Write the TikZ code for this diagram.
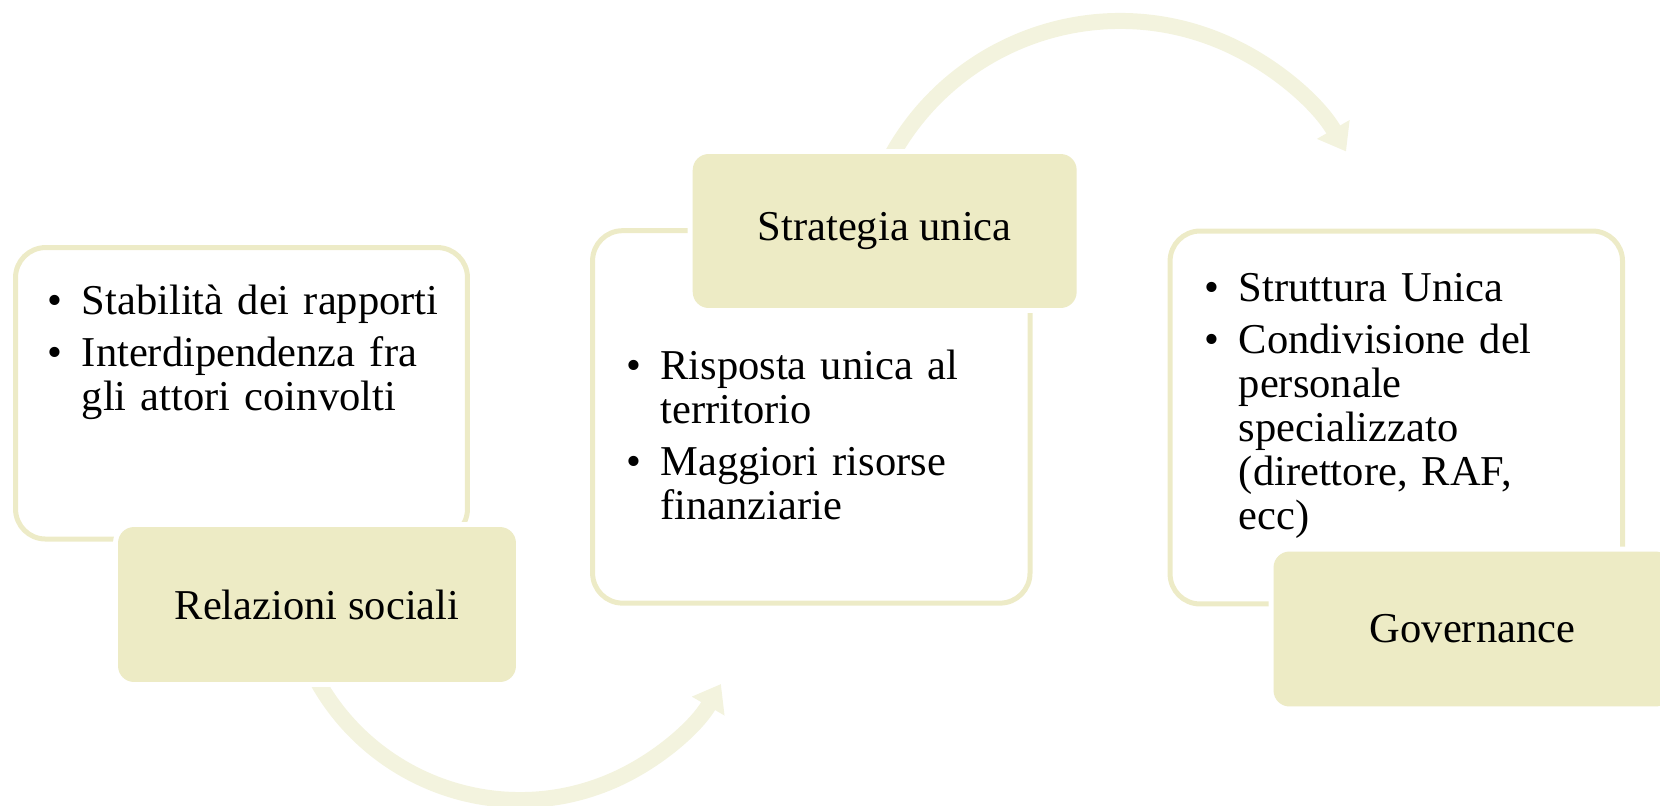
\documentclass[tikz,border=0pt]{standalone}
\usepackage{fontspec}
\setmainfont{Liberation Serif}
\usepackage{enumitem}
\usetikzlibrary{arrows.meta}

\definecolor{panelline}{RGB}{237,235,199}
\definecolor{tagfill}{RGB}{237,235,197}
\definecolor{arcfill}{RGB}{243,243,222}

\setlist[itemize]{label=\textbullet,leftmargin=0.68cm,labelwidth=0.68cm,labelsep=0pt,
  labelindent=0pt,align=left,topsep=0pt,partopsep=0pt,parsep=0pt,itemsep=4.3pt,
  before=\raggedright}
\hyphenpenalty=10000
\exhyphenpenalty=10000

\begin{document}
\begin{tikzpicture}[x=0.02cm,y=0.02cm,
  panel/.style={draw=panelline,line width=0.1cm,rounded corners=0.6cm,inner sep=0pt},
  tag/.style={fill=tagfill,rounded corners=0.32cm,inner sep=0pt,minimum height=3.1cm,
    preaction={draw=white,line width=0.2cm},font=\fontsize{24.2pt}{25pt}\selectfont},
  items/.style={anchor=base west,inner sep=0pt,align=left,
    font=\fontsize{24.2pt}{25pt}\selectfont},
  turn/.style={draw=arcfill,line width=0.32cm,-{Triangle[length=0.51cm,width=0.72cm]}}]
\useasboundingbox (0,0) rectangle (1660,-805);

% outlined panels
\node[panel,minimum width=9.04cm,minimum height=5.83cm] (relpanel) at (241.5,-393.3) {};
\node[panel,minimum width=8.75cm,minimum height=7.45cm] (strpanel) at (811.3,-416.9) {};
\node[panel,minimum width=9.05cm,minimum height=7.46cm] (govpanel) at (1396.3,-417.5) {};

% curved arrows
\coordinate (lowturn) at (520,-568);
\coordinate (highturn) at (1120,-282);
\draw[turn] ([shift={(205:232)}]lowturn) arc[start angle=205,end angle=330,radius=232];
\draw[turn] ([shift={(155:261)}]highturn) arc[start angle=155,end angle=30,radius=261];

% titles
\node[tag,minimum width=7.96cm] (rel) at (317,-604.5) {Relazioni sociali};
\node[tag,minimum width=7.68cm,minimum height=3.08cm] (str) at (884.7,-231) {Strategia unica};
\node[tag,minimum width=7.96cm] (gov) at (1472.5,-629) {Governance};

% bullet lists
\node[items,text width=7.98cm] (relitems) at (47.5,-271) {\begin{itemize}
  \item Stabilità dei rapporti
  \item Interdipendenza fra gli attori coinvolti
\end{itemize}};
\node[items,text width=7.08cm] (stritems) at (626,-336) {\begin{itemize}
  \item Risposta unica al territorio
  \item Maggiori risorse finanziarie
\end{itemize}};
\node[items,text width=7.08cm] (govitems) at (1204.5,-258) {\begin{itemize}
  \item Struttura Unica
  \item Condivisione del personale specializzato (direttore, RAF, ecc)
\end{itemize}};
\end{tikzpicture}
\end{document}
